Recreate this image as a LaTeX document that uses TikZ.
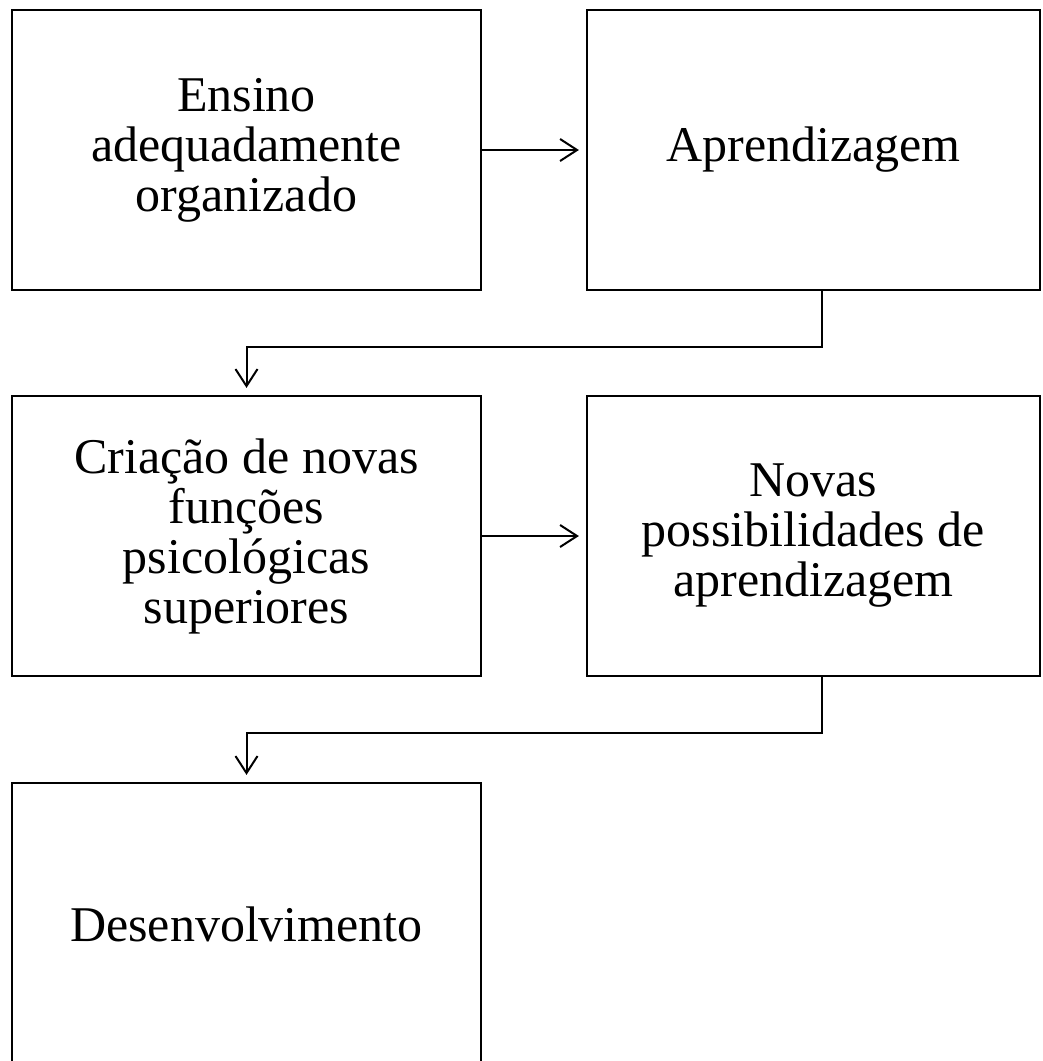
\documentclass[tikz,border=0pt]{standalone}
\usepackage{fontspec}
\setmainfont{Liberation Serif}
\usetikzlibrary{arrows.meta}
\begin{document}
\begin{tikzpicture}[x=1pt,y=1pt,
  box/.style={draw,line width=2.2pt,rectangle,align=center,inner sep=0pt,
    font=\fontsize{50}{50}\selectfont},
  conn/.style={line width=2pt,-{Straight Barb[length=17pt,width=22pt,line width=2pt]},shorten >=7pt}]
\useasboundingbox (0,0) rectangle (1043,-1061);
\node[box,minimum width=469pt,minimum height=280pt] (b1) at (246.5,-150) {Ensino\\adequadamente\\organizado};
\node[box,minimum width=453pt,minimum height=280pt] (b2) at (813.5,-150) {Aprendizagem};
\node[box,minimum width=469pt,minimum height=280pt] (b3) at (246.5,-536) {Criação de novas\\funções\\psicológicas\\superiores};
\node[box,minimum width=453pt,minimum height=280pt] (b4) at (813.5,-536) {Novas\\possibilidades de\\aprendizagem};
\node[box,minimum width=469pt,minimum height=282pt] (b5) at (246.5,-924) {Desenvolvimento};
\draw[conn] (b1.east) -- (b2.west);
\draw[conn] (b3.east) -- (b4.west);
\draw[conn] ([xshift=8pt]b2.south) -- ++(0,-56) -| (b3.north);
\draw[conn] ([xshift=8pt]b4.south) -- ++(0,-56) -| (b5.north);
\end{tikzpicture}
\end{document}
